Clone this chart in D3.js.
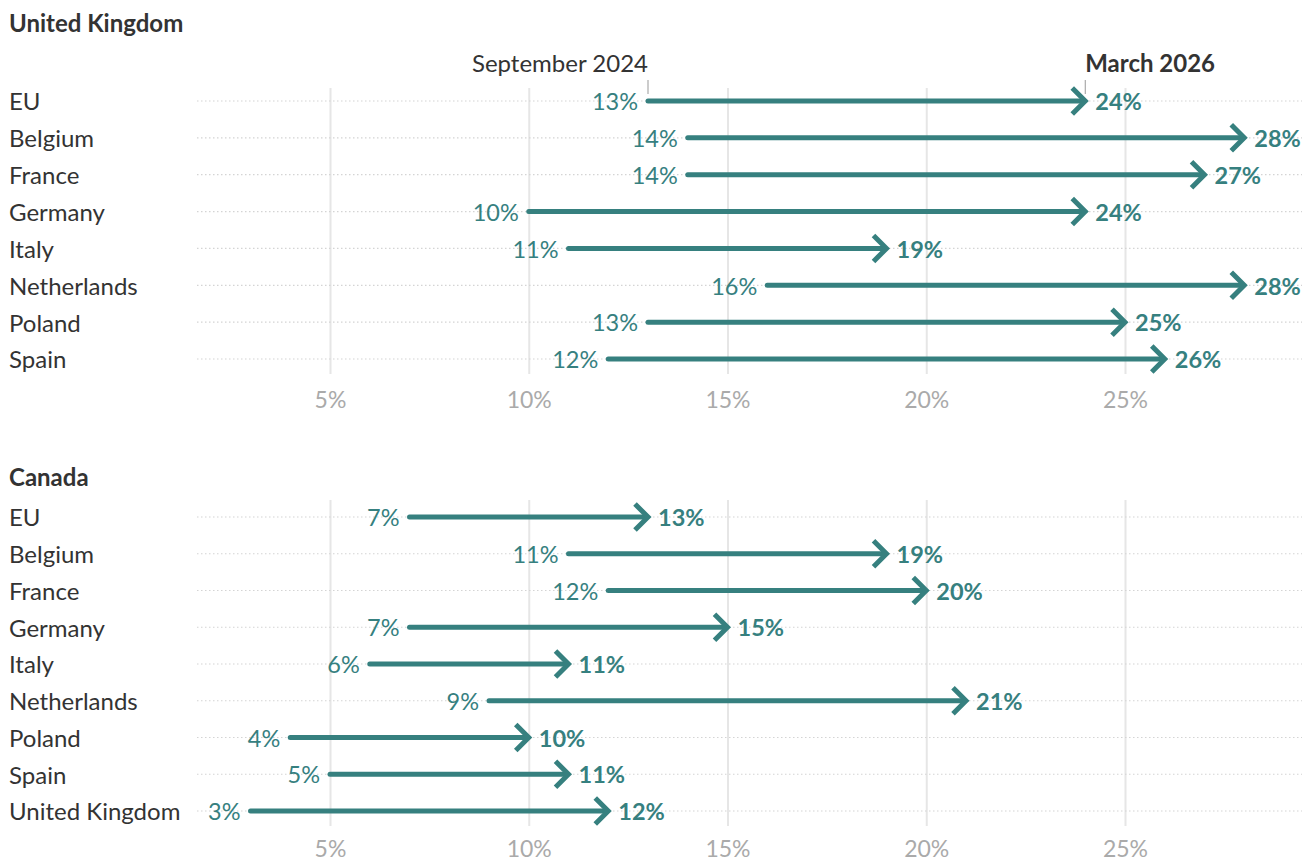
<!doctype html>
<html>
<head>
<meta charset="utf-8">
<style>
  body { margin: 0; background: #fff; }
  svg { display: block; font-family: Lato, "Open Sans", sans-serif; }
  .axis .domain { display: none; }
  .axis line { stroke: #e6e6e6; stroke-width: 2; }
  .axis text { fill: #aaaaaa; font-size: 23px; font-family: Lato, sans-serif; }
</style>
<script src="https://d3js.org/d3.v7.min.js"></script>
</head>
<body>
<svg width="1313" height="863"></svg>
<script>
// data
var ukCountries = ["EU", "Belgium", "France", "Germany", "Italy", "Netherlands", "Poland", "Spain"];
var ukSep2024 = [13, 14, 14, 10, 11, 16, 13, 12];
var ukMar2026 = [24, 28, 27, 24, 19, 28, 25, 26];

var caCountries = ["EU", "Belgium", "France", "Germany", "Italy", "Netherlands", "Poland", "Spain", "United Kingdom"];
var caSep2024 = [7, 11, 12, 7, 6, 9, 4, 5, 3];
var caMar2026 = [13, 19, 20, 15, 11, 21, 10, 11, 12];

var tickValues = [5, 10, 15, 20, 25];
var startLabel = "September 2024", endLabel = "March 2026";

var teal = "#36807f";
var svg = d3.select("svg");

var x = d3.scaleLinear().domain([5, 25]).range([330, 1125]);
var rowLeft = 197, rowRight = 1302;

function panel(title, cats, v0, v1, cfg) {
  var g = svg.append("g");
  var y = d3.scalePoint().domain(cats).range([cfg.first, cfg.last]);

  g.append("text").attr("x", 9).attr("y", cfg.titleY)
    .attr("font-size", 24).attr("font-weight", 700).attr("fill", "#333")
    .text(title);

  // vertical gridlines + tick labels
  g.append("g").attr("class", "axis")
    .attr("transform", "translate(0," + cfg.gridBottom + ")")
    .call(d3.axisBottom(x).tickValues(tickValues)
      .tickSize(-(cfg.gridBottom - cfg.gridTop))
      .tickPadding(cfg.pad)
      .tickFormat(function(d) { return d + "%"; }));

  var rows = cats.map(function(c, i) { return {c: c, a: v0[i], b: v1[i]}; });

  // dotted row lines
  g.selectAll(".row").data(rows).enter().append("line")
    .attr("x1", rowLeft).attr("x2", rowRight)
    .attr("y1", function(d) { return y(d.c); })
    .attr("y2", function(d) { return y(d.c); })
    .attr("stroke", "#d4d4d4").attr("stroke-width", 1.2)
    .attr("stroke-dasharray", "1.5,2.5");

  // country labels
  g.selectAll(".lab").data(rows).enter().append("text")
    .attr("x", 9).attr("y", function(d) { return y(d.c) + 1; })
    .attr("dy", "0.35em").attr("font-size", 24).attr("fill", "#333")
    .text(function(d) { return d.c; });

  // arrows
  g.selectAll(".shaft").data(rows).enter().append("line")
    .attr("x1", function(d) { return x(d.a); })
    .attr("x2", function(d) { return x(d.b) - 3; })
    .attr("y1", function(d) { return y(d.c); })
    .attr("y2", function(d) { return y(d.c); })
    .attr("stroke", teal).attr("stroke-width", 5).attr("stroke-linecap", "round");

  g.selectAll(".head").data(rows).enter().append("path")
    .attr("d", function(d) {
      var tx = x(d.b), ty = y(d.c);
      return "M" + (tx - 13) + "," + (ty - 13) + "L" + tx + "," + ty + "L" + (tx - 13) + "," + (ty + 13);
    })
    .attr("fill", "none").attr("stroke", teal).attr("stroke-width", 5)
    .attr("stroke-linejoin", "miter");

  g.selectAll(".v0").data(rows).enter().append("text")
    .attr("x", function(d) { return x(d.a) - 10; })
    .attr("y", function(d) { return y(d.c) + 1; })
    .attr("dy", "0.35em").attr("text-anchor", "end")
    .attr("font-size", 23.5).attr("fill", teal)
    .text(function(d) { return d.a + "%"; });

  g.selectAll(".v1").data(rows).enter().append("text")
    .attr("x", function(d) { return x(d.b) + 10; })
    .attr("y", function(d) { return y(d.c) + 1; })
    .attr("dy", "0.35em").attr("font-weight", 700)
    .attr("font-size", 23.5).attr("fill", teal)
    .text(function(d) { return d.b + "%"; });

  return rows;
}

var ukRows = panel("United Kingdom", ukCountries, ukSep2024, ukMar2026,
  {titleY: 32, first: 101, last: 359, gridTop: 88, gridBottom: 374, pad: 18});
panel("Canada", caCountries, caSep2024, caMar2026,
  {titleY: 486, first: 517, last: 811, gridTop: 500, gridBottom: 826, pad: 15});

// column headers on first panel
var r0 = ukRows[0];
svg.append("line").attr("x1", x(r0.a)).attr("x2", x(r0.a)).attr("y1", 80).attr("y2", 94)
  .attr("stroke", "#999").attr("stroke-width", 1);
svg.append("line").attr("x1", x(r0.b)).attr("x2", x(r0.b)).attr("y1", 80).attr("y2", 94)
  .attr("stroke", "#999").attr("stroke-width", 1);
svg.append("text").attr("x", x(r0.a)).attr("y", 72).attr("text-anchor", "end")
  .attr("font-size", 24).attr("fill", "#333").text(startLabel);
svg.append("text").attr("x", x(r0.b)).attr("y", 72)
  .attr("font-size", 24).attr("font-weight", 700).attr("fill", "#333").text(endLabel);
</script>
</body>
</html>
